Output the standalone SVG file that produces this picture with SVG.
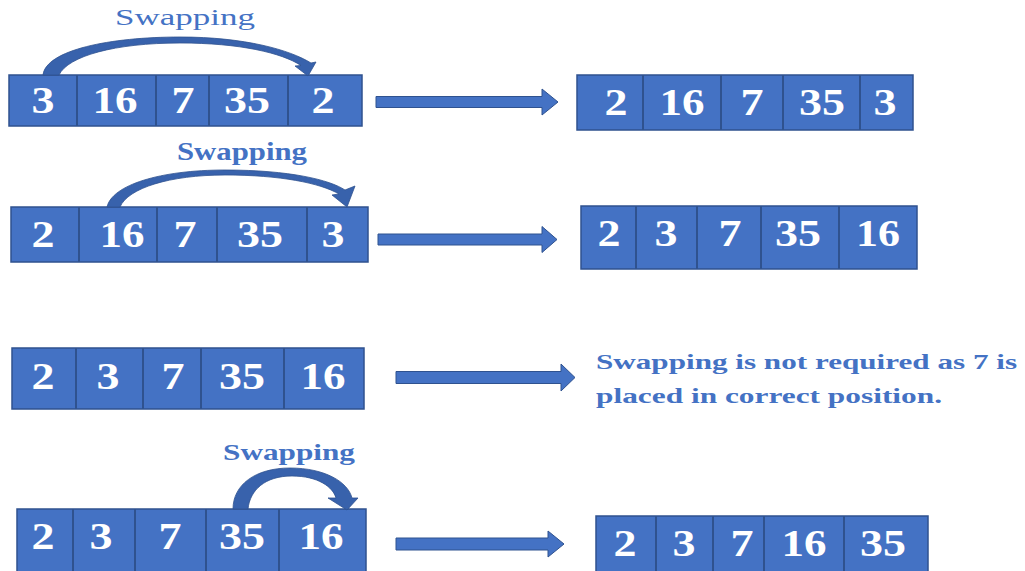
<svg xmlns="http://www.w3.org/2000/svg" width="1025" height="571" viewBox="0 0 1025 571">
<defs>
<style>
.box{fill:#4472C4;stroke:#2F528F;stroke-width:1.5}
.div{stroke:#2F528F;stroke-width:2}
.num{font-family:"Liberation Serif","Times New Roman",serif;font-weight:bold;font-size:38px;fill:#ffffff;text-anchor:middle}
.lbl{font-family:"Liberation Serif","Times New Roman",serif;fill:#4472C4}
.arrow{fill:#4472C4;stroke:#2F528F;stroke-width:1}
.curve{fill:#3862AC;stroke:#2F528F;stroke-width:0.8}
</style>
</defs>
<rect width="1025" height="571" fill="#ffffff"/>

<g id="row1-before">
<rect class="box" x="9" y="75" width="353" height="51"/>
<line class="div" x1="77" y1="75" x2="77" y2="126"/>
<line class="div" x1="156" y1="75" x2="156" y2="126"/>
<line class="div" x1="209" y1="75" x2="209" y2="126"/>
<line class="div" x1="288" y1="75" x2="288" y2="126"/>
<text class="num" x="43" y="113" textLength="23" lengthAdjust="spacingAndGlyphs">3</text>
<text class="num" x="115" y="113" textLength="45" lengthAdjust="spacingAndGlyphs">16</text>
<text class="num" x="183" y="113" textLength="23" lengthAdjust="spacingAndGlyphs">7</text>
<text class="num" x="247" y="113" textLength="46" lengthAdjust="spacingAndGlyphs">35</text>
<text class="num" x="323" y="113" textLength="23" lengthAdjust="spacingAndGlyphs">2</text>
</g>
<g id="label1"><text class="lbl" x="115" y="25" font-size="24" textLength="140" lengthAdjust="spacingAndGlyphs">Swapping</text></g>

<g id="row1-after">
<rect class="box" x="577" y="75" width="336" height="55"/>
<line class="div" x1="643" y1="75" x2="643" y2="130"/>
<line class="div" x1="721" y1="75" x2="721" y2="130"/>
<line class="div" x1="783" y1="75" x2="783" y2="130"/>
<line class="div" x1="860" y1="75" x2="860" y2="130"/>
<text class="num" x="616" y="115" textLength="23" lengthAdjust="spacingAndGlyphs">2</text>
<text class="num" x="682" y="115" textLength="45" lengthAdjust="spacingAndGlyphs">16</text>
<text class="num" x="752" y="115" textLength="23" lengthAdjust="spacingAndGlyphs">7</text>
<text class="num" x="822" y="115" textLength="46" lengthAdjust="spacingAndGlyphs">35</text>
<text class="num" x="885" y="115" textLength="23" lengthAdjust="spacingAndGlyphs">3</text>
</g>

<g id="row2-before">
<rect class="box" x="11" y="207" width="357" height="55"/>
<line class="div" x1="79" y1="207" x2="79" y2="262"/>
<line class="div" x1="157" y1="207" x2="157" y2="262"/>
<line class="div" x1="217" y1="207" x2="217" y2="262"/>
<line class="div" x1="307" y1="207" x2="307" y2="262"/>
<text class="num" x="43" y="247" textLength="23" lengthAdjust="spacingAndGlyphs">2</text>
<text class="num" x="122" y="247" textLength="45" lengthAdjust="spacingAndGlyphs">16</text>
<text class="num" x="185" y="247" textLength="23" lengthAdjust="spacingAndGlyphs">7</text>
<text class="num" x="260" y="247" textLength="46" lengthAdjust="spacingAndGlyphs">35</text>
<text class="num" x="333" y="247" textLength="23" lengthAdjust="spacingAndGlyphs">3</text>
</g>
<g id="label2"><text class="lbl" x="177" y="160" font-size="25" font-weight="bold" textLength="130" lengthAdjust="spacingAndGlyphs">Swapping</text></g>

<g id="row2-after">
<rect class="box" x="581" y="206" width="336" height="63"/>
<line class="div" x1="636" y1="206" x2="636" y2="269"/>
<line class="div" x1="697" y1="206" x2="697" y2="269"/>
<line class="div" x1="761" y1="206" x2="761" y2="269"/>
<line class="div" x1="839" y1="206" x2="839" y2="269"/>
<text class="num" x="609" y="246" textLength="23" lengthAdjust="spacingAndGlyphs">2</text>
<text class="num" x="666" y="246" textLength="23" lengthAdjust="spacingAndGlyphs">3</text>
<text class="num" x="730" y="246" textLength="23" lengthAdjust="spacingAndGlyphs">7</text>
<text class="num" x="798" y="246" textLength="46" lengthAdjust="spacingAndGlyphs">35</text>
<text class="num" x="878" y="246" textLength="44" lengthAdjust="spacingAndGlyphs">16</text>
</g>

<g id="row3-before">
<rect class="box" x="12" y="348" width="352" height="61"/>
<line class="div" x1="76" y1="348" x2="76" y2="409"/>
<line class="div" x1="143" y1="348" x2="143" y2="409"/>
<line class="div" x1="201" y1="348" x2="201" y2="409"/>
<line class="div" x1="284" y1="348" x2="284" y2="409"/>
<text class="num" x="43" y="389" textLength="23" lengthAdjust="spacingAndGlyphs">2</text>
<text class="num" x="108" y="389" textLength="23" lengthAdjust="spacingAndGlyphs">3</text>
<text class="num" x="173" y="389" textLength="23" lengthAdjust="spacingAndGlyphs">7</text>
<text class="num" x="242" y="389" textLength="46" lengthAdjust="spacingAndGlyphs">35</text>
<text class="num" x="323" y="389" textLength="45" lengthAdjust="spacingAndGlyphs">16</text>
</g>

<g id="note">
<text class="lbl" x="596" y="369" font-size="22" font-weight="bold" textLength="421" lengthAdjust="spacingAndGlyphs">Swapping is not required as 7 is</text>
<text class="lbl" x="596" y="403" font-size="22" font-weight="bold" textLength="346" lengthAdjust="spacingAndGlyphs">placed in correct position.</text>
</g>

<g id="row4-before">
<rect class="box" x="17" y="509" width="349" height="66"/>
<line class="div" x1="73" y1="509" x2="73" y2="575"/>
<line class="div" x1="135" y1="509" x2="135" y2="575"/>
<line class="div" x1="206" y1="509" x2="206" y2="575"/>
<line class="div" x1="279" y1="509" x2="279" y2="575"/>
<text class="num" x="43" y="549" textLength="23" lengthAdjust="spacingAndGlyphs">2</text>
<text class="num" x="101" y="549" textLength="23" lengthAdjust="spacingAndGlyphs">3</text>
<text class="num" x="170" y="549" textLength="23" lengthAdjust="spacingAndGlyphs">7</text>
<text class="num" x="242" y="549" textLength="46" lengthAdjust="spacingAndGlyphs">35</text>
<text class="num" x="321" y="549" textLength="45" lengthAdjust="spacingAndGlyphs">16</text>
</g>
<g id="label4"><text class="lbl" x="223" y="460" font-size="23" font-weight="bold" textLength="132" lengthAdjust="spacingAndGlyphs">Swapping</text></g>

<g id="row4-after">
<rect class="box" x="596" y="516" width="332" height="56"/>
<line class="div" x1="656" y1="516" x2="656" y2="572"/>
<line class="div" x1="713" y1="516" x2="713" y2="572"/>
<line class="div" x1="764" y1="516" x2="764" y2="572"/>
<line class="div" x1="844" y1="516" x2="844" y2="572"/>
<text class="num" x="625" y="556" textLength="23" lengthAdjust="spacingAndGlyphs">2</text>
<text class="num" x="684" y="556" textLength="23" lengthAdjust="spacingAndGlyphs">3</text>
<text class="num" x="742" y="556" textLength="23" lengthAdjust="spacingAndGlyphs">7</text>
<text class="num" x="804" y="556" textLength="45" lengthAdjust="spacingAndGlyphs">16</text>
<text class="num" x="883" y="556" textLength="46" lengthAdjust="spacingAndGlyphs">35</text>
</g>

<g id="connectors">
<path class="curve" d="M 43 75 C 46 50, 110 37, 180 37 C 245 37, 290 50, 311 63 L 316 62 L 308 76 L 295 66 L 301 65.5 C 282 53, 240 43, 180 43 C 115 43, 68 56, 59 75 Z"/>
<path class="curve" d="M 107 207 C 112 185, 160 170, 225 170 C 290 170, 330 180, 345 190 L 355 186 L 347 207 L 332 195 L 339 194 C 320 183, 280 175, 225 175 C 170 175, 128 188, 120 207 Z"/>
<path class="curve" d="M 233 509 C 233 485, 255 468, 290 468 C 325 468, 348 482, 352 498 L 358 498 L 347 510 L 328 498 L 336 498 C 333 487, 318 476, 292 476 C 265 476, 250 490, 248 509 Z"/>
<path class="arrow" d="M 376 96.5 L 542 96.5 L 542 89 L 558 102 L 542 115 L 542 107.5 L 376 107.5 Z"/>
<path class="arrow" d="M 378 234 L 542 234 L 542 226.5 L 557 239.5 L 542 252.5 L 542 245 L 378 245 Z"/>
<path class="arrow" d="M 396 371.5 L 561 371.5 L 561 364 L 575 377.5 L 561 391 L 561 383.5 L 396 383.5 Z"/>
<path class="arrow" d="M 396 538 L 548 538 L 548 531 L 564 544 L 548 557 L 548 550 L 396 550 Z"/>
</g>
</svg>
